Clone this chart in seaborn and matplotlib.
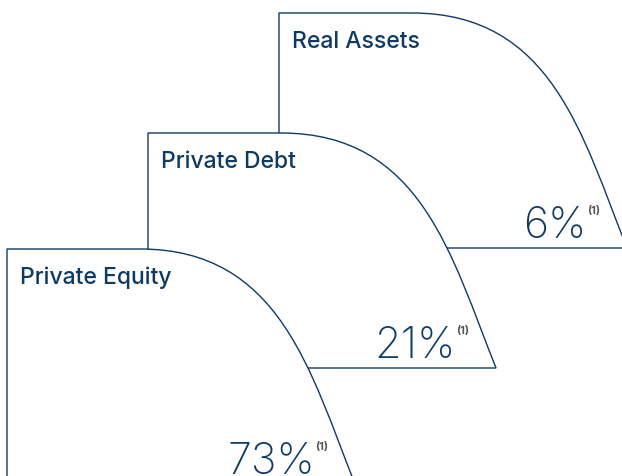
import numpy as np
import seaborn as sns
import matplotlib.pyplot as plt
from matplotlib.path import Path
from matplotlib.patches import PathPatch

# data
categories = ['Private Equity', 'Private Debt', 'Real Assets']
shares = [73, 21, 6]
footnote = '(1)'

# layout (pixel-like units, y grows downward)
origins_x = [7, 148, 279]
origins_y = [249, 133, 13]
shape_w, shape_h, flat_top = 348, 235, 133

navy = '#0f3a63'
grey = '#555555'

sns.set_theme(style='white')
plt.rcParams['font.family'] = ['Inter', 'DejaVu Sans']

fig = plt.figure(figsize=(6.22, 4.76), dpi=100)
ax = fig.add_axes([0, 0, 1, 1])
ax.set_xlim(0, 622)
ax.set_ylim(476, 0)
ax.axis('off')


def card_path(x0, y0):
    # rectangle whose top-right corner is a sweeping curve
    verts = [
        (x0, y0 + shape_h),
        (x0, y0),
        (x0 + flat_top, y0),
        (x0 + flat_top + 140, y0),
        (x0 + shape_w - 44.5, y0 + shape_h - 111.5),
        (x0 + shape_w, y0 + shape_h),
        (x0, y0 + shape_h),
    ]
    codes = [Path.MOVETO, Path.LINETO, Path.LINETO,
             Path.CURVE4, Path.CURVE4, Path.CURVE4, Path.CLOSEPOLY]
    return Path(verts, codes)


pct_texts = []
# draw back to front so the front card hides the one behind it
for i in reversed(range(len(categories))):
    x0, y0 = origins_x[i], origins_y[i]
    patch = PathPatch(card_path(x0, y0), facecolor='white', edgecolor=navy,
                      lw=1.0, zorder=2 * (3 - i))
    ax.add_patch(patch)
    z = 2 * (3 - i) + 1
    ax.text(x0 + 13, y0 + 35, categories[i], color=navy, fontsize=16.5,
            fontweight='medium', ha='left', va='baseline', zorder=z)
    t = ax.text(x0 + 308, y0 + shape_h - 10, f'{shares[i]}%', color=navy,
                fontsize=31, fontweight='light', ha='right', va='baseline',
                zorder=z)
    pct_texts.append((t, x0, y0, z))

# put the footnote marker just after each percentage
fig.canvas.draw()
renderer = fig.canvas.get_renderer()
inv = ax.transData.inverted()
for t, x0, y0, z in pct_texts:
    bb = t.get_window_extent(renderer)
    xr, _ = inv.transform((bb.x1, bb.y1))
    ax.text(xr + 0.5, y0 + shape_h - 10 - 27, footnote, color=grey, fontsize=8,
            fontweight='bold', ha='left', va='center', zorder=z)

fig.savefig('out.png', dpi=100, facecolor='white')
